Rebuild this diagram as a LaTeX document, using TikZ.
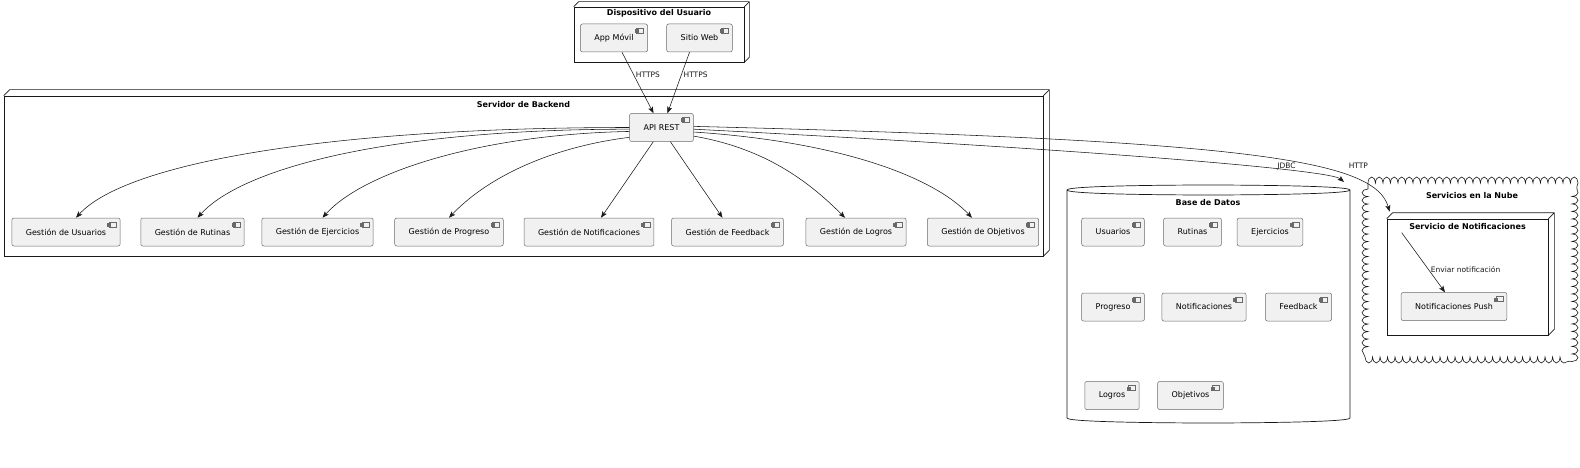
\documentclass[tikz,border=0pt]{standalone}
\usepackage{fontspec}
\setmainfont{DejaVu Sans}
\usetikzlibrary{positioning, arrows.meta, decorations.pathmorphing}

\definecolor{compfill}{HTML}{F1F1F1}
\definecolor{ink}{HTML}{181818}

\begin{document}
\begin{tikzpicture}[
    x=1pt, y=-1pt,
    comp/.style={rectangle, draw=ink!65, line width=0.5pt, fill=compfill, rounded corners=2pt,
                 minimum height=28pt, inner xsep=14pt, inner ysep=0pt, font=\fontsize{8}{9.6}\selectfont,
                 path picture={
                   \draw[ink!65, line width=0.4pt, fill=compfill, sharp corners]
                     ([shift={(-11pt,-4pt)}]path picture bounding box.north east) rectangle ++(7pt,-5pt)
                     ([shift={(-12.5pt,-5.2pt)}]path picture bounding box.north east) rectangle ++(3pt,-1pt)
                     ([shift={(-12.5pt,-7.2pt)}]path picture bounding box.north east) rectangle ++(3pt,-1pt);
                 }},
    box3d/.style={rectangle, draw=ink, line width=0.7pt, fill=white, inner sep=0pt},
    face/.style={draw=ink, line width=0.7pt},
    ttl/.style={font=\bfseries\fontsize{8}{9.6}\selectfont, inner sep=0pt},
    lbl/.style={font=\fontsize{7.5}{9}\selectfont, inner sep=2pt},
    arr/.style={-{Stealth[length=6.5pt, width=5pt, inset=1.5pt]}, line width=0.55pt, ink},
]
\useasboundingbox (0,0) rectangle (1580,468);

% Dispositivo del Usuario
\node[box3d, minimum width=170pt, minimum height=55pt] (dev) at (659,34.5) {};
\draw[face] (dev.north west) -- ++(5,-5) -| ([shift={(5pt,5pt)}]dev.south east) -- (dev.south east)
            (dev.north east) -- ++(5,-5);
\node[ttl] (devt) at ([yshift=-7pt]dev.north) {Dispositivo del Usuario};
\node[comp] (app) at (614,38) {App Móvil};
\node[comp] (web) at (699.5,38) {Sitio Web};

% Servidor de Backend
\node[box3d, minimum width=1039pt, minimum height=160pt] (backend) at (523.5,176) {};
\draw[face] (backend.north west) -- ++(6,-6) -| ([shift={(6pt,6pt)}]backend.south east) -- (backend.south east)
            (backend.north east) -- ++(6,-6);
\node[ttl] (backt) at ([yshift=-8.5pt]backend.north) {Servidor de Backend};
\node[comp] (api) at (661.5,127.5) {API REST};
\node[comp] (gu) at (66,232) {Gestión de Usuarios};
\node[comp] (gr) at (192.5,232) {Gestión de Rutinas};
\node[comp] (ge) at (317.5,232) {Gestión de Ejercicios};
\node[comp] (gp) at (449,232) {Gestión de Progreso};
\node[comp] (gn) at (589,232) {Gestión de Notificaciones};
\node[comp] (gf) at (727.5,232) {Gestión de Feedback};
\node[comp] (gl) at (856,232) {Gestión de Logros};
\node[comp] (go) at (983,232) {Gestión de Objetivos};

% Base de Datos
\draw[face] (1067,190) .. controls (1067,185) and (1208,185) .. (1208,185)
            .. controls (1208,185) and (1350,185) .. (1350,190) -- (1350,418)
            .. controls (1350,423) and (1208,423) .. (1208,423)
            .. controls (1208,423) and (1067,423) .. (1067,418) -- cycle;
\draw[face] (1067,190) .. controls (1067,195) and (1208,195) .. (1208,195)
            .. controls (1208,195) and (1350,195) .. (1350,190);
\coordinate (dbin) at (1344,182);
\node[ttl] (dbt) at (1208,202.5) {Base de Datos};
\node[comp] (dbu) at (1113,232) {Usuarios};
\node[comp] (dbr) at (1192.5,232) {Rutinas};
\node[comp] (dbe) at (1270,232) {Ejercicios};
\node[comp] (dbp) at (1113,307) {Progreso};
\node[comp] (dbn) at (1204,307) {Notificaciones};
\node[comp] (dbf) at (1298.5,307) {Feedback};
\node[comp] (dbl) at (1112,395.5) {Logros};
\node[comp] (dbo) at (1190.5,395.5) {Objetivos};

% Servicios en la Nube
\draw[ink, line width=0.6pt, decorate, decoration={bumps, segment length=15pt, amplitude=6pt}]
    (1368,183) -- (1572,183) -- (1572,357) -- (1368,357) -- cycle;
\node[ttl] (cloudt) at (1472,195.5) {Servicios en la Nube};
\node[box3d, minimum width=161pt, minimum height=116pt] (sn) at (1467.5,277) {};
\draw[face] (sn.north west) -- ++(6,-6) -| ([shift={(6pt,6pt)}]sn.south east) -- (sn.south east)
            (sn.north east) -- ++(6,-6);
\node[ttl] (snt) at ([yshift=-7.5pt]sn.north) {Servicio de Notificaciones};
\node[comp] (push) at (1454,306.5) {Notificaciones Push};

% HTTPS requests
\draw[arr] ([xshift=8pt]app.south) -- node[lbl, pos=.37, right] {HTTPS} ([xshift=-8pt]api.north);
\draw[arr] ([xshift=-10pt]web.south) -- node[lbl, pos=.37, right] {HTTPS} ([xshift=6pt]api.north);

% API REST to modules
\draw[arr] (api.west) .. controls +(-300,0) and +(50,-55) .. ([xshift=10pt]gu.north);
\draw[arr] (api.183) .. controls +(-240,0) and +(45,-50) .. ([xshift=5pt]gr.north);
\draw[arr] (api.187) .. controls +(-150,3) and +(40,-45) .. ([xshift=5pt]ge.north);
\draw[arr] (api.197) .. controls +(-80,10) and +(38,-40) .. (gp.north);
\draw[arr] (api.240) -- ([xshift=12pt]gn.north);
\draw[arr] (api.302) -- ([xshift=-5pt]gf.north);
\draw[arr] (api.-15) .. controls +(70,12) and +(-38,-38) .. ([xshift=-11pt]gl.north);
\draw[arr] (api.-8) .. controls +(150,10) and +(-38,-40) .. ([xshift=-11pt]go.north);

% External links
\draw[arr] (api.-3) .. controls +(408,21) and +(-14,-12) .. (dbin)
    node[lbl, pos=.73, above=-2pt] {JDBC};
\draw[arr] (api.2) .. controls +(558,14) and +(-15,-52) .. ([shift={(3pt,7pt)}]sn.north west)
    node[lbl, pos=.72, above right=4pt and 2pt] {HTTP};
\draw[arr] ([shift={(15pt,-14pt)}]sn.north west) -- node[lbl, pos=.62, right] {Enviar notificación} ([xshift=-9pt]push.north);

\end{tikzpicture}
\end{document}
